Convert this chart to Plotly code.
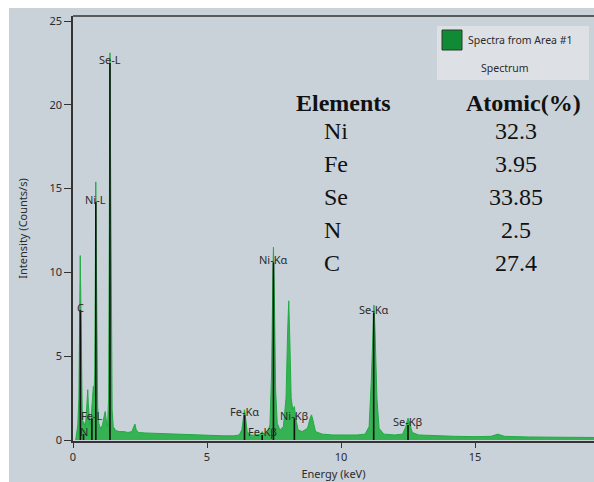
import plotly.graph_objects as go

# ---------------- data ----------------
spectrum_energy = [
    0.10, 0.14, 0.18, 0.22, 0.25, 0.27, 0.29, 0.32, 0.35, 0.39, 0.42, 0.46, 0.50, 0.53, 0.55,
    0.57, 0.60, 0.63, 0.67, 0.71, 0.74, 0.76, 0.78, 0.81, 0.83, 0.85, 0.87, 0.89, 0.92, 0.96,
    1.00, 1.05, 1.10, 1.16, 1.20, 1.24, 1.29, 1.33, 1.36, 1.38, 1.40, 1.43, 1.46, 1.50, 1.60,
    1.75, 1.90, 2.05, 2.20, 2.27, 2.31, 2.36, 2.45, 2.70, 3.00, 3.30, 3.60, 4.00, 4.40, 4.80,
    5.20, 5.60, 6.00, 6.20, 6.30, 6.36, 6.40, 6.44, 6.50, 6.60, 6.80, 7.00, 7.06, 7.12, 7.25,
    7.35, 7.41, 7.46, 7.48, 7.51, 7.56, 7.62, 7.72, 7.85, 7.95, 8.01, 8.05, 8.09, 8.14, 8.20,
    8.26, 8.32, 8.40, 8.55, 8.75, 8.85, 8.90, 8.95, 9.05, 9.30, 9.70, 10.2, 10.6, 10.9, 11.05,
    11.13, 11.20, 11.23, 11.27, 11.34, 11.42, 11.60, 12.0, 12.3, 12.42, 12.50, 12.56, 12.66, 12.9, 13.5,
    14.2, 15.0, 15.6, 15.85, 16.1, 17.0, 18.0, 19.0, 19.44,
]
spectrum_counts = [
    0.0, 0.6, 0.9, 2.5, 8.0, 11.0, 8.5, 2.0, 0.9, 1.1, 1.0, 0.8, 1.6, 2.8, 3.0,
    2.2, 1.1, 0.9, 1.2, 2.0, 3.0, 3.2, 2.6, 4.0, 9.0, 15.4, 11.0, 5.0, 2.0, 1.0,
    0.8, 0.7, 0.9, 1.4, 1.7, 1.2, 0.8, 2.5, 12.0, 23.1, 17.0, 6.0, 1.8, 0.8, 0.55,
    0.5, 0.5, 0.45, 0.5, 0.8, 0.95, 0.6, 0.45, 0.42, 0.4, 0.38, 0.35, 0.33, 0.3, 0.28,
    0.25, 0.25, 0.25, 0.3, 0.6, 1.4, 1.8, 1.3, 0.5, 0.3, 0.28, 0.35, 0.5, 0.35, 0.4,
    0.9, 4.0, 10.0, 11.5, 9.0, 3.0, 1.0, 0.6, 0.8, 2.5, 6.5, 8.3, 6.0, 2.5, 1.8,
    2.0, 1.2, 0.6, 0.5, 0.7, 1.3, 1.5, 1.2, 0.5, 0.35, 0.3, 0.3, 0.3, 0.35, 0.8,
    3.5, 7.6, 8.05, 6.5, 2.5, 0.7, 0.35, 0.3, 0.35, 0.8, 1.3, 1.0, 0.45, 0.3, 0.25,
    0.22, 0.2, 0.22, 0.35, 0.22, 0.18, 0.16, 0.15, 0.15,
]

line_labels = ["C", "N", "Fe-L", "Ni-L", "Se-L", "Fe-Kα", "Fe-Kβ", "Ni-Kα", "Ni-Kβ", "Se-Kα", "Se-Kβ"]
line_energy = [0.277, 0.392, 0.705, 0.851, 1.379, 6.40, 7.06, 7.48, 8.26, 11.22, 12.50]
line_height = [7.75, 0.35, 1.3, 14.2, 22.5, 1.5, 0.3, 10.6, 1.3, 7.6, 0.9]

table_elements = ["Ni", "Fe", "Se", "N", "C"]
table_atomic = ["32.3", "3.95", "33.85", "2.5", "27.4"]

x_ticks = [0, 5, 10, 15]
y_ticks = [0, 5, 10, 15, 20, 25]

# ---------------- layout constants ----------------
W, H = 594, 482
ML, MR, MT, MB = 73, 0, 16, 41
PW, PH = W - ML - MR, H - MT - MB
BG = "#c9d1d9"
GREEN = "#22ab45"
TXT = "#2b2b2b"


def px(xp):
    return (xp - ML) / PW


def py(yp):
    return (H - MB - yp) / PH


fig = go.Figure()

fig.add_trace(go.Scatter(
    x=spectrum_energy, y=spectrum_counts, mode="lines",
    line=dict(color=GREEN, width=1), fill="tozeroy", fillcolor="rgba(40,175,70,0.92)",
    name="Spectra from Area #1", showlegend=False, hoverinfo="skip",
))

# black marker lines for element lines
lx, ly = [], []
for e, h in zip(line_energy, line_height):
    lx += [e, e, None]
    ly += [0, h, None]
fig.add_trace(go.Scatter(x=lx, y=ly, mode="lines", line=dict(color="#111111", width=1.6),
                         showlegend=False, hoverinfo="skip"))

annotations = []
for lab, e, h in zip(line_labels, line_energy, line_height):
    annotations.append(dict(x=e, y=h, xref="x", yref="y", text=lab, showarrow=False,
                            yanchor="middle", xanchor="center", yshift=3,
                            font=dict(family="Noto Sans", size=11, color=TXT)))

# table of atomic percentages
serif = "Liberation Serif"
annotations.append(dict(x=px(294), y=py(103), xref="paper", yref="paper", text="<b>Elements</b>",
                        showarrow=False, xanchor="left", yanchor="middle",
                        font=dict(family=serif, size=24, color="#111111")))
annotations.append(dict(x=px(523), y=py(103), xref="paper", yref="paper", text="<b>Atomic(%)</b>",
                        showarrow=False, xanchor="center", yanchor="middle",
                        font=dict(family=serif, size=24, color="#111111")))
for i, (el, val) in enumerate(zip(table_elements, table_atomic)):
    yy = 131 + 33 * i
    annotations.append(dict(x=px(322), y=py(yy), xref="paper", yref="paper", text=el,
                            showarrow=False, xanchor="left", yanchor="middle",
                            font=dict(family=serif, size=24, color="#111111")))
    annotations.append(dict(x=px(516), y=py(yy), xref="paper", yref="paper", text=val,
                            showarrow=False, xanchor="center", yanchor="middle",
                            font=dict(family=serif, size=24, color="#111111")))

# custom legend texts
annotations.append(dict(x=px(466), y=py(40), xref="paper", yref="paper", text="Spectra from Area #1",
                        showarrow=False, xanchor="left", yanchor="middle",
                        font=dict(family="Noto Sans", size=10.5, color=TXT)))
annotations.append(dict(x=px(505), y=py(68), xref="paper", yref="paper", text="Spectrum",
                        showarrow=False, xanchor="center", yanchor="middle",
                        font=dict(family="Noto Sans", size=10.5, color=TXT)))

shapes = [
    # white border strips
    dict(type="rect", xref="paper", yref="paper", x0=px(0), x1=px(9), y0=py(H), y1=py(0),
         fillcolor="white", line=dict(width=0), layer="below"),
    dict(type="rect", xref="paper", yref="paper", x0=px(0), x1=px(W), y0=py(8), y1=py(0),
         fillcolor="white", line=dict(width=0), layer="below"),
    # top frame line
    dict(type="line", xref="paper", yref="paper", x0=0, x1=1, y0=1, y1=1,
         line=dict(color="#333333", width=1.5)),
    # legend box
    dict(type="rect", xref="paper", yref="paper", x0=px(437), x1=px(589), y0=py(80), y1=py(26),
         fillcolor="#dde1e6", line=dict(width=0)),
    dict(type="rect", xref="paper", yref="paper", x0=px(442), x1=px(462), y0=py(50), y1=py(30),
         fillcolor="#118a35", line=dict(color="#2a3a2a", width=1)),
]

fig.update_layout(
    width=W, height=H,
    margin=dict(l=ML, r=MR, t=MT, b=MB, pad=0),
    paper_bgcolor=BG, plot_bgcolor=BG,
    showlegend=False,
    annotations=annotations,
    shapes=shapes,
    font=dict(family="Noto Sans", size=11, color=TXT),
)
fig.update_xaxes(
    range=[0, PW / 26.8], tickvals=x_ticks, ticks="outside", ticklen=5, tickcolor="#333333",
    showline=True, linecolor="#333333", linewidth=1.5, showgrid=False, zeroline=False,
    tickfont=dict(family="Noto Sans", size=11, color=TXT),
    title=dict(text="Energy (keV)", font=dict(family="Noto Sans", size=11, color=TXT), standoff=7),
)
fig.update_yaxes(
    range=[-1 / 16.76, (440 - MT) / 16.76], tickvals=y_ticks, ticks="outside", ticklen=7,
    tickcolor="#333333",
    showline=True, linecolor="#333333", linewidth=1.5, showgrid=False, zeroline=False,
    tickfont=dict(family="Noto Sans", size=11, color=TXT),
    title=dict(text="Intensity (Counts/s)", font=dict(family="Noto Sans", size=11, color=TXT), standoff=20),
)

fig.write_html("out.html")
